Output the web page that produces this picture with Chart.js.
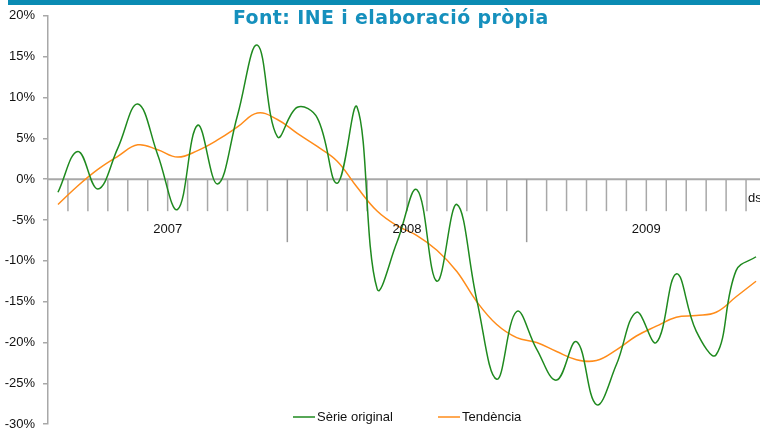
<!DOCTYPE html>
<html>
<head>
<meta charset="utf-8">
<script src="https://cdn.jsdelivr.net/npm/chart.js@4/dist/chart.umd.min.js"></script>
<style>
  html, body { margin: 0; padding: 0; background: #fff; }
  #wrap { width: 760px; height: 432px; overflow: hidden; position: relative; }
  canvas { display: block; }
</style>
</head>
<body>
<div id="wrap"><canvas id="c" width="780" height="440"></canvas></div>
<script>
// ---- data ----
const years = ['2007', '2008', '2009'];
const monthNames = ['gen', 'febr', 'març', 'abr', 'maig', 'juny', 'jul', 'ag', 'set', 'oct', 'nov', 'des'];
const categories = [];
years.forEach(y => monthNames.forEach(m => categories.push(m + ' ' + y)));

const serieOriginal = [-1.6, 3.4, -1.2, 3.8, 9.2, 3.0, -3.7, 6.6, -0.6, 7.8, 16.4, 5.2,
                        8.8, 7.5, -0.5, 8.8, -13.4, -7.7, -1.3, -12.5, -3.1, -14.8, -24.5, -16.2,
                        -20.8, -24.6, -19.9, -27.6, -22.7, -16.3, -20.0, -11.6, -18.6, -21.5, -11.2, -9.5];
const tendencia = [-3.1, -0.8, 1.2, 2.8, 4.2, 3.6, 2.7, 3.5, 4.8, 6.4, 8.1, 7.3,
                   5.6, 4.0, 2.2, -1.0, -3.9, -5.7, -6.9, -8.7, -11.3, -15.0, -17.8, -19.4,
                   -20.0, -21.1, -22.1, -22.2, -20.9, -19.2, -18.0, -16.9, -16.7, -16.3, -14.4, -12.5];

const yTicks = { min: -30, max: 20, step: 5 };
const titleText = 'Font: INE i elaboració pròpia';
const seriesNames = ['Sèrie original', 'Tendència'];
const endLabel = 'ds';

const GREEN = '#1f8a1f';
const ORANGE = '#ff8c1a';
const TEAL = '#0a8bb3';
const AXIS = '#a8a8a8';

const decor = {
  id: 'decor',
  beforeDatasetsDraw(chart) {
    const ctx = chart.ctx, x = chart.scales.x, y = chart.scales.y, ca = chart.chartArea;
    const y0 = y.getPixelForValue(0);
    ctx.save();
    ctx.strokeStyle = AXIS; ctx.lineWidth = 2;
    ctx.beginPath(); ctx.moveTo(ca.left, y0); ctx.lineTo(ca.right, y0); ctx.stroke();
    const n = categories.length;
    const half = (x.getPixelForValue(1) - x.getPixelForValue(0)) / 2;
    ctx.lineWidth = 1.5;
    for (let i = 1; i <= n; i++) {
      const px = x.getPixelForValue(i - 1) + half;
      const long = (i % 12 === 0);
      ctx.strokeStyle = long ? '#9a9a9a' : AXIS;
      ctx.beginPath(); ctx.moveTo(px, y0); ctx.lineTo(px, y0 + (long ? 63 : 32)); ctx.stroke();
    }
    ctx.restore();
  },
  afterDraw(chart) {
    const ctx = chart.ctx, x = chart.scales.x, y = chart.scales.y;
    const y0 = y.getPixelForValue(0);
    ctx.save();
    ctx.fillStyle = TEAL;
    ctx.fillRect(8, 0, 780, 5);
    // title, sized to the reference's width
    ctx.fillStyle = '#1590bd';
    ctx.textAlign = 'left'; ctx.textBaseline = 'middle';
    ctx.font = 'bold 17px "DejaVu Sans"';
    ctx.letterSpacing = '0.4px';
    const w = ctx.measureText(titleText).width;
    const fs = Math.min(19, Math.max(15, 17 * 317 / w));
    ctx.font = 'bold ' + fs.toFixed(2) + 'px "DejaVu Sans"';
    ctx.fillText(titleText, 233, 19);
    ctx.letterSpacing = '0px';
    // year labels
    ctx.textAlign = 'center';
    ctx.fillStyle = '#111';
    ctx.font = '13px "Liberation Sans", Arial';
    years.forEach((yr, k) => {
      const cx = (x.getPixelForValue(k * 12) + x.getPixelForValue(k * 12 + 11)) / 2;
      ctx.fillText(yr, cx, y0 + 50);
    });
    ctx.textAlign = 'left';
    ctx.fillText(endLabel, 748, y0 + 19);
    // legend
    const ly = 417;
    const items = [[GREEN, 293, seriesNames[0]], [ORANGE, 438, seriesNames[1]]];
    items.forEach(([col, lx, txt]) => {
      ctx.strokeStyle = col; ctx.lineWidth = 1.5;
      ctx.beginPath(); ctx.moveTo(lx, ly); ctx.lineTo(lx + 22, ly); ctx.stroke();
      ctx.fillStyle = '#111';
      ctx.fillText(txt, lx + 24, ly);
    });
    ctx.restore();
  }
};

new Chart(document.getElementById('c'), {
  type: 'line',
  data: {
    labels: categories,
    datasets: [
      { label: seriesNames[0], data: serieOriginal, borderColor: GREEN, borderWidth: 1.5,
        pointRadius: 0, tension: 0.4, fill: false },
      { label: seriesNames[1], data: tendencia, borderColor: ORANGE, borderWidth: 1.5,
        pointRadius: 0, tension: 0.4, fill: false }
    ]
  },
  options: {
    responsive: false,
    animation: false,
    devicePixelRatio: 1,
    layout: { padding: { left: 0, right: 14, top: 15, bottom: 13 } },
    plugins: { legend: { display: false }, title: { display: false }, tooltip: { enabled: false } },
    scales: {
      x: { type: 'category', offset: true, display: false },
      y: {
        min: yTicks.min, max: yTicks.max,
        afterFit(s) { s.width = 48; },
        ticks: { stepSize: yTicks.step, callback: v => v + '%', color: '#111',
                 font: { family: '"Liberation Sans", Arial', size: 13 }, padding: 8 },
        grid: { drawOnChartArea: false, tickLength: 5, color: AXIS, lineWidth: 1.5 },
        border: { color: AXIS, width: 1.5 }
      }
    }
  },
  plugins: [decor]
});
</script>
</body>
</html>
